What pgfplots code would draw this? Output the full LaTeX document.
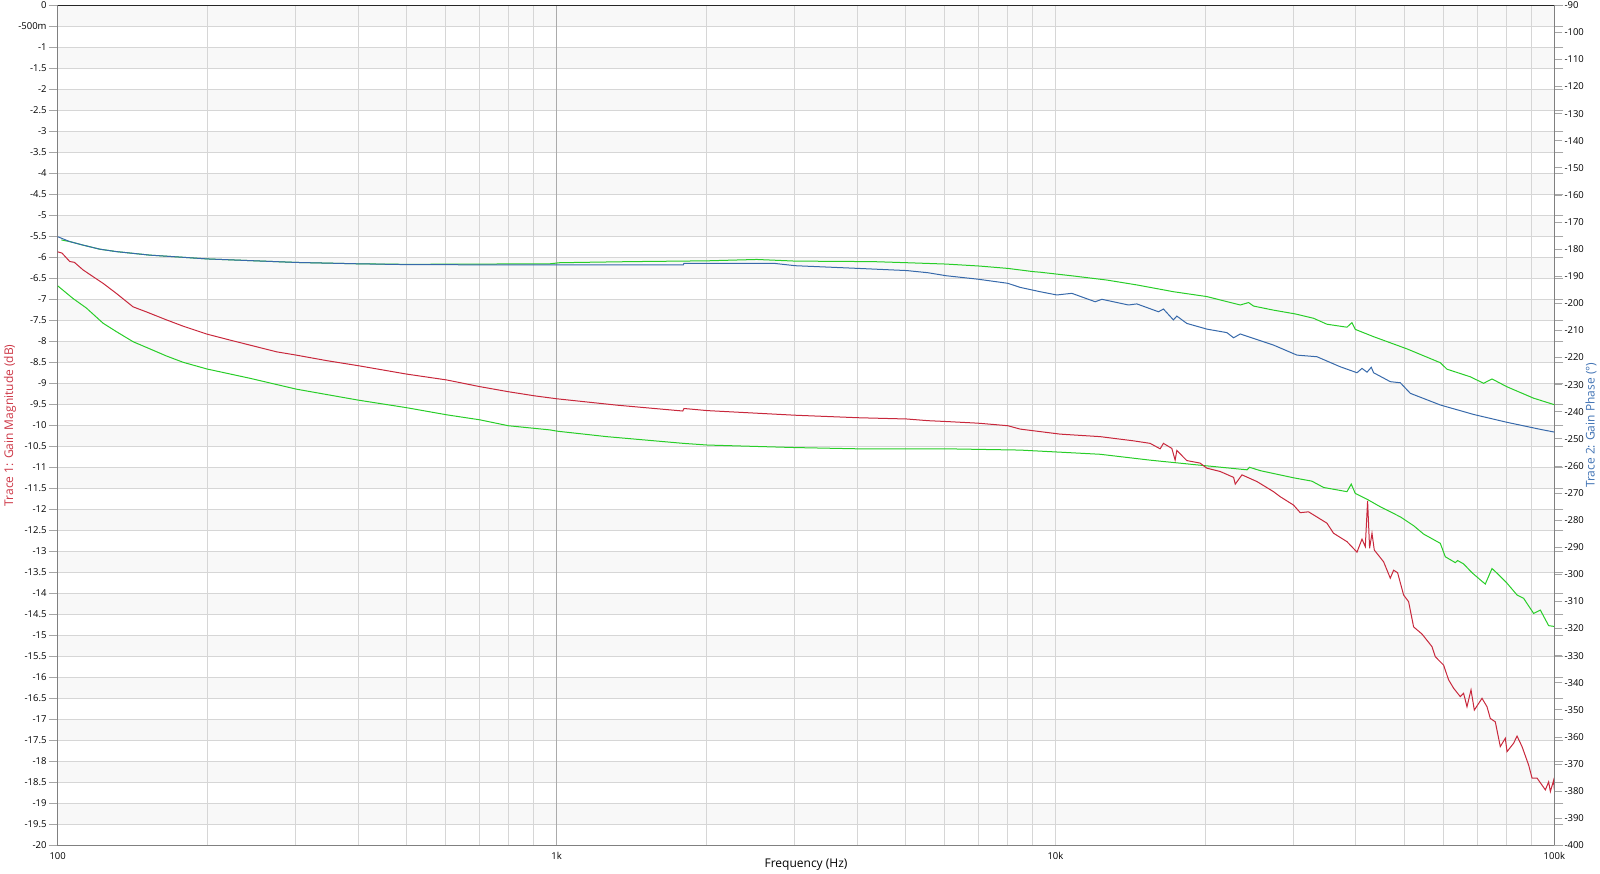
\documentclass[border=0pt]{standalone}
\usepackage{pgfplots}
\pgfplotsset{compat=1.18}
\usepackage{fontspec}
\setmainfont{Open Sans}
\definecolor{cred}{RGB}{200,40,60}
\definecolor{cblue}{RGB}{55,105,170}
\definecolor{cgreen}{RGB}{40,205,40}
\definecolor{band}{RGB}{248,248,248}
\definecolor{gridc}{RGB}{214,214,214}
\definecolor{labred}{RGB}{205,55,70}
\definecolor{labblue}{RGB}{65,115,180}
\begin{document}
\begin{tikzpicture}[font=\fontsize{9.5}{11}\selectfont]
\path[use as bounding box] (0,0) rectangle (1600pt,873pt);
% background bands
\begin{axis}[at={(57.7pt,27.7pt)}, anchor=south west,
    scale only axis, width=1496.6pt, height=840pt,
    xmode=log, xmin=100, xmax=100000, hide axis, ymin=-20, ymax=0]
\fill[band] (axis cs:100,0) rectangle (axis cs:100000,-0.5);
\fill[band] (axis cs:100,-1) rectangle (axis cs:100000,-1.5);
\fill[band] (axis cs:100,-2) rectangle (axis cs:100000,-2.5);
\fill[band] (axis cs:100,-3) rectangle (axis cs:100000,-3.5);
\fill[band] (axis cs:100,-4) rectangle (axis cs:100000,-4.5);
\fill[band] (axis cs:100,-5) rectangle (axis cs:100000,-5.5);
\fill[band] (axis cs:100,-6) rectangle (axis cs:100000,-6.5);
\fill[band] (axis cs:100,-7) rectangle (axis cs:100000,-7.5);
\fill[band] (axis cs:100,-8) rectangle (axis cs:100000,-8.5);
\fill[band] (axis cs:100,-9) rectangle (axis cs:100000,-9.5);
\fill[band] (axis cs:100,-10) rectangle (axis cs:100000,-10.5);
\fill[band] (axis cs:100,-11) rectangle (axis cs:100000,-11.5);
\fill[band] (axis cs:100,-12) rectangle (axis cs:100000,-12.5);
\fill[band] (axis cs:100,-13) rectangle (axis cs:100000,-13.5);
\fill[band] (axis cs:100,-14) rectangle (axis cs:100000,-14.5);
\fill[band] (axis cs:100,-15) rectangle (axis cs:100000,-15.5);
\fill[band] (axis cs:100,-16) rectangle (axis cs:100000,-16.5);
\fill[band] (axis cs:100,-17) rectangle (axis cs:100000,-17.5);
\fill[band] (axis cs:100,-18) rectangle (axis cs:100000,-18.5);
\fill[band] (axis cs:100,-19) rectangle (axis cs:100000,-19.5);
\end{axis}
% magnitude axis
\begin{axis}[at={(57.7pt,27.7pt)}, anchor=south west,
  scale only axis, width=1496.6pt, height=840pt,
  xmode=log, xmin=100, xmax=100000, ymin=-20, ymax=0,
  axis background/.style={fill=none},
  grid=both,
  major grid style={draw=gridc, line width=1pt},
  minor grid style={draw=gridc, line width=0.9pt},
  xtick={100,1000,10000,100000},
  xticklabels={100,1k,10k,100k},
  xtick style={draw=none},
  minor tick length=0pt,
  extra x ticks={1000},
  extra x tick labels={},
  extra x tick style={grid=major, major grid style={draw=black!33, line width=1pt}},
  xticklabel style={anchor=north, inner sep=0pt, yshift=2pt},
  ytick={-20,-19.5,...,0},
  yticklabels={-20,-19.5,-19,-18.5,-18,-17.5,-17,-16.5,-16,-15.5,-15,-14.5,-14,-13.5,-13,-12.5,-12,-11.5,-11,-10.5,-10,-9.5,-9,-8.5,-8,-7.5,-7,-6.5,-6,-5.5,-5,-4.5,-4,-3.5,-3,-2.5,-2,-1.5,-1,-500m,0},
  tick align=outside,
  major tick length=9pt,
  ytick style={draw=black!35, line width=0.8pt},
  yticklabel style={anchor=east, inner sep=0pt, xshift=-2pt},
  axis line style={draw=black!50, line width=1.5pt},
  xlabel={Frequency (Hz)},
  xlabel style={at={(axis description cs:0.5,0)}, anchor=center, yshift=-19.7pt, font=\fontsize{12}{14}\selectfont},
  ylabel={Trace 1: Gain Magnitude (dB)},
  ylabel style={at={(axis description cs:0,0.5)}, anchor=center, rotate=0, yshift=47.7pt, text=labred, font=\fontsize{12}{14}\selectfont},
]
\addplot[cgreen, line width=1pt] coordinates {
(100,-6.68) (107.3,-6.98) (114.2,-7.21) (123.3,-7.57) (131.1,-7.77) (141.6,-8.01) (153.0,-8.18)
(165.2,-8.35) (178.4,-8.50) (199.3,-8.66) (242.7,-8.88) (301.1,-9.14) (400,-9.40) (500,-9.58)
(602,-9.75) (702,-9.87) (800,-10.01)
(970,-10.11) (1003,-10.14) (1260,-10.27) (1795,-10.43) (2005,-10.47) (3006,-10.53) (4026,-10.56)
(6036,-10.56) (8494,-10.59) (10218,-10.64) (12290,-10.69) (15480,-10.83) (19497,-10.95)
(24202,-11.06) (24500,-11.00) (25735,-11.08) (30008,-11.25) (32667,-11.33) (34464,-11.48)
(38398,-11.58) (39168,-11.40) (39899,-11.62) (42115,-11.76) (44781,-11.94) (49114,-12.18)
(52225,-12.39) (54693,-12.59) (59071,-12.81) (60450,-13.13) (63306,-13.27) (64000,-13.22) (65779,-13.30)
(68385,-13.51) (71054,-13.68) (72713,-13.78) (74998,-13.41) (76749,-13.52) (80375,-13.76)
(84178,-14.04) (86782,-14.12) (90884,-14.48) (93740,-14.40) (97402,-14.77) (100000,-14.79)
};
\addplot[cred, line width=1pt] coordinates {
(100,-5.87) (102,-5.90) (105.7,-6.10) (108,-6.12) (112.4,-6.30) (117.7,-6.46) (123.3,-6.62) (131.1,-6.86)
(141.6,-7.18) (150.6,-7.30) (165.2,-7.49) (178.4,-7.64) (199.3,-7.83) (221.3,-7.97) (242.7,-8.09)
(274.5,-8.25) (301.1,-8.33) (345.9,-8.46) (400,-8.58) (500,-8.78) (602,-8.92)
(702,-9.08) (800,-9.20) (905,-9.30) (1003,-9.37) (1320,-9.52) (1790,-9.66) (1800,-9.60)
(2005,-9.65) (3006,-9.76) (4026,-9.82) (5035,-9.85) (5555,-9.89) (6036,-9.91) (7006,-9.95)
(8025,-10.01) (8494,-10.09) (9031,-10.13) (10218,-10.21) (12290,-10.27) (13479,-10.33)
(14334,-10.37) (15480,-10.43) (16211,-10.56) (16460,-10.43) (17110,-10.55) (17373,-10.83)
(17510,-10.60) (18337,-10.84) (19497,-10.90) (20110,-11.02) (21389,-11.10) (22752,-11.24)
(22930,-11.40) (23650,-11.18) (25345,-11.34) (27357,-11.58) (28218,-11.70) (30008,-11.90)
(30951,-12.08) (32158,-12.06) (35010,-12.33) (36093,-12.57) (38398,-12.77) (40214,-13.02)
(41153,-12.71) (41785,-12.89) (42232,-11.80) (42624,-12.93) (43098,-12.57) (43558,-12.97)
(45470,-13.25) (46898,-13.64) (47618,-13.45) (48505,-13.51) (49868,-14.04) (51033,-14.20)
(52225,-14.80) (54290,-14.97) (56850,-15.27) (57723,-15.51) (59977,-15.71) (61379,-16.06)
(62811,-16.26) (64783,-16.46) (65779,-16.38) (66821,-16.70) (68069,-16.30) (69115,-16.78)
(71614,-16.50) (73285,-16.70) (74411,-16.98) (76149,-17.06) (77926,-17.65) (79746,-17.45)
(80375,-17.77) (82865,-17.57) (84178,-17.40) (86143,-17.65) (88808,-18.09) (90215,-18.40)
(92323,-18.40) (95930,-18.68) (97402,-18.49) (98171,-18.72) (99678,-18.45) (100000,-18.68)
};
\draw[black!85, line width=1.5pt] (rel axis cs:0,1) -- (rel axis cs:1,1);
\end{axis}
% phase axis
\begin{axis}[at={(57.7pt,27.7pt)}, anchor=south west,
  scale only axis, width=1496.6pt, height=840pt,
  xmode=log, xmin=100, xmax=100000, ymin=-400, ymax=-90,
  axis x line=none, axis y line*=right,
  ytick={-400,-390,...,-90},
  yticklabels={-400,-390,-380,-370,-360,-350,-340,-330,-320,-310,-300,-290,-280,-270,-260,-250,-240,-230,-220,-210,-200,-190,-180,-170,-160,-150,-140,-130,-120,-110,-100,-90},
  tick align=outside,
  major tick length=8pt,
  ytick style={draw=black!35, line width=0.8pt},
  yticklabel style={anchor=west, inner sep=0pt, xshift=2pt},
  axis line style={draw=black!50, line width=1.5pt},
  ylabel={Trace 2: Gain Phase (°)},
  ylabel style={at={(axis description cs:1,0.5)}, anchor=center, rotate=0, yshift=-36.7pt, text=labblue, font=\fontsize{12}{14}\selectfont},
]
\addplot[cgreen, line width=1pt] coordinates {
(101.7,-176.6) (105.7,-177.2) (112.4,-178.5) (121.4,-180.0) (131.1,-180.9) (153.0,-182.2) (178.4,-183.0) (199.3,-183.6) (301.1,-184.9)
(400,-185.4) (500,-185.6) (970,-185.4) (1015,-185.0) (1403,-184.6) (2005,-184.3) (2518,-183.8)
(3006,-184.4) (4314,-184.6) (5035,-185.0) (6036,-185.5) (7006,-186.2) (8025,-187.1) (9031,-188.3)
(9316,-188.5) (10865,-189.9) (12677,-191.4) (14561,-193.2) (17237,-195.7) (20110,-197.5)
(23465,-200.6) (24381,-199.7) (24950,-201.0) (27357,-202.5) (30244,-203.9) (32909,-205.5)
(35010,-207.7) (38398,-208.8) (39295,-207.1) (39899,-209.6) (43418,-212.3) (50657,-216.8)
(59071,-221.9) (60927,-224.3) (67850,-227.1) (72144,-229.5) (74998,-227.9) (80375,-230.8)
(90884,-235.0) (100000,-237.4)
};
\addplot[cblue, line width=1pt] coordinates {
(100,-175.4) (105.7,-177.2) (112.4,-178.5) (121.4,-180.0) (131.1,-180.9) (153.0,-182.2) (178.4,-183.0) (199.3,-183.6) (301.1,-184.9)
(400,-185.4) (500,-185.7) (800,-185.8) (970,-185.8) (1795,-185.8) (1800,-185.2) (2719,-185.2)
(3006,-186.1) (4026,-187.1) (5035,-187.9) (5555,-188.7) (6036,-189.8) (7006,-191.1) (8025,-192.6)
(8494,-194.1) (9316,-195.7) (10063,-196.9) (10785,-196.3) (12010,-199.4) (12387,-198.5)
(14006,-200.6) (14561,-200.2) (16085,-203.1) (16460,-202.1) (17237,-206.1) (17510,-204.7)
(18337,-207.4) (20110,-209.5) (22061,-210.8) (22752,-212.7) (23465,-211.3) (27357,-215.4)
(30483,-219.1) (33430,-219.7) (37228,-223.4) (40214,-225.6) (41153,-224.0) (42115,-225.4)
(42960,-223.6) (43418,-225.6) (46898,-228.9) (49114,-229.3) (51435,-233.2) (59071,-237.5)
(68892,-241.0) (80375,-243.9) (93740,-246.5) (100000,-247.5)
};
\end{axis}
\end{tikzpicture}
\end{document}
